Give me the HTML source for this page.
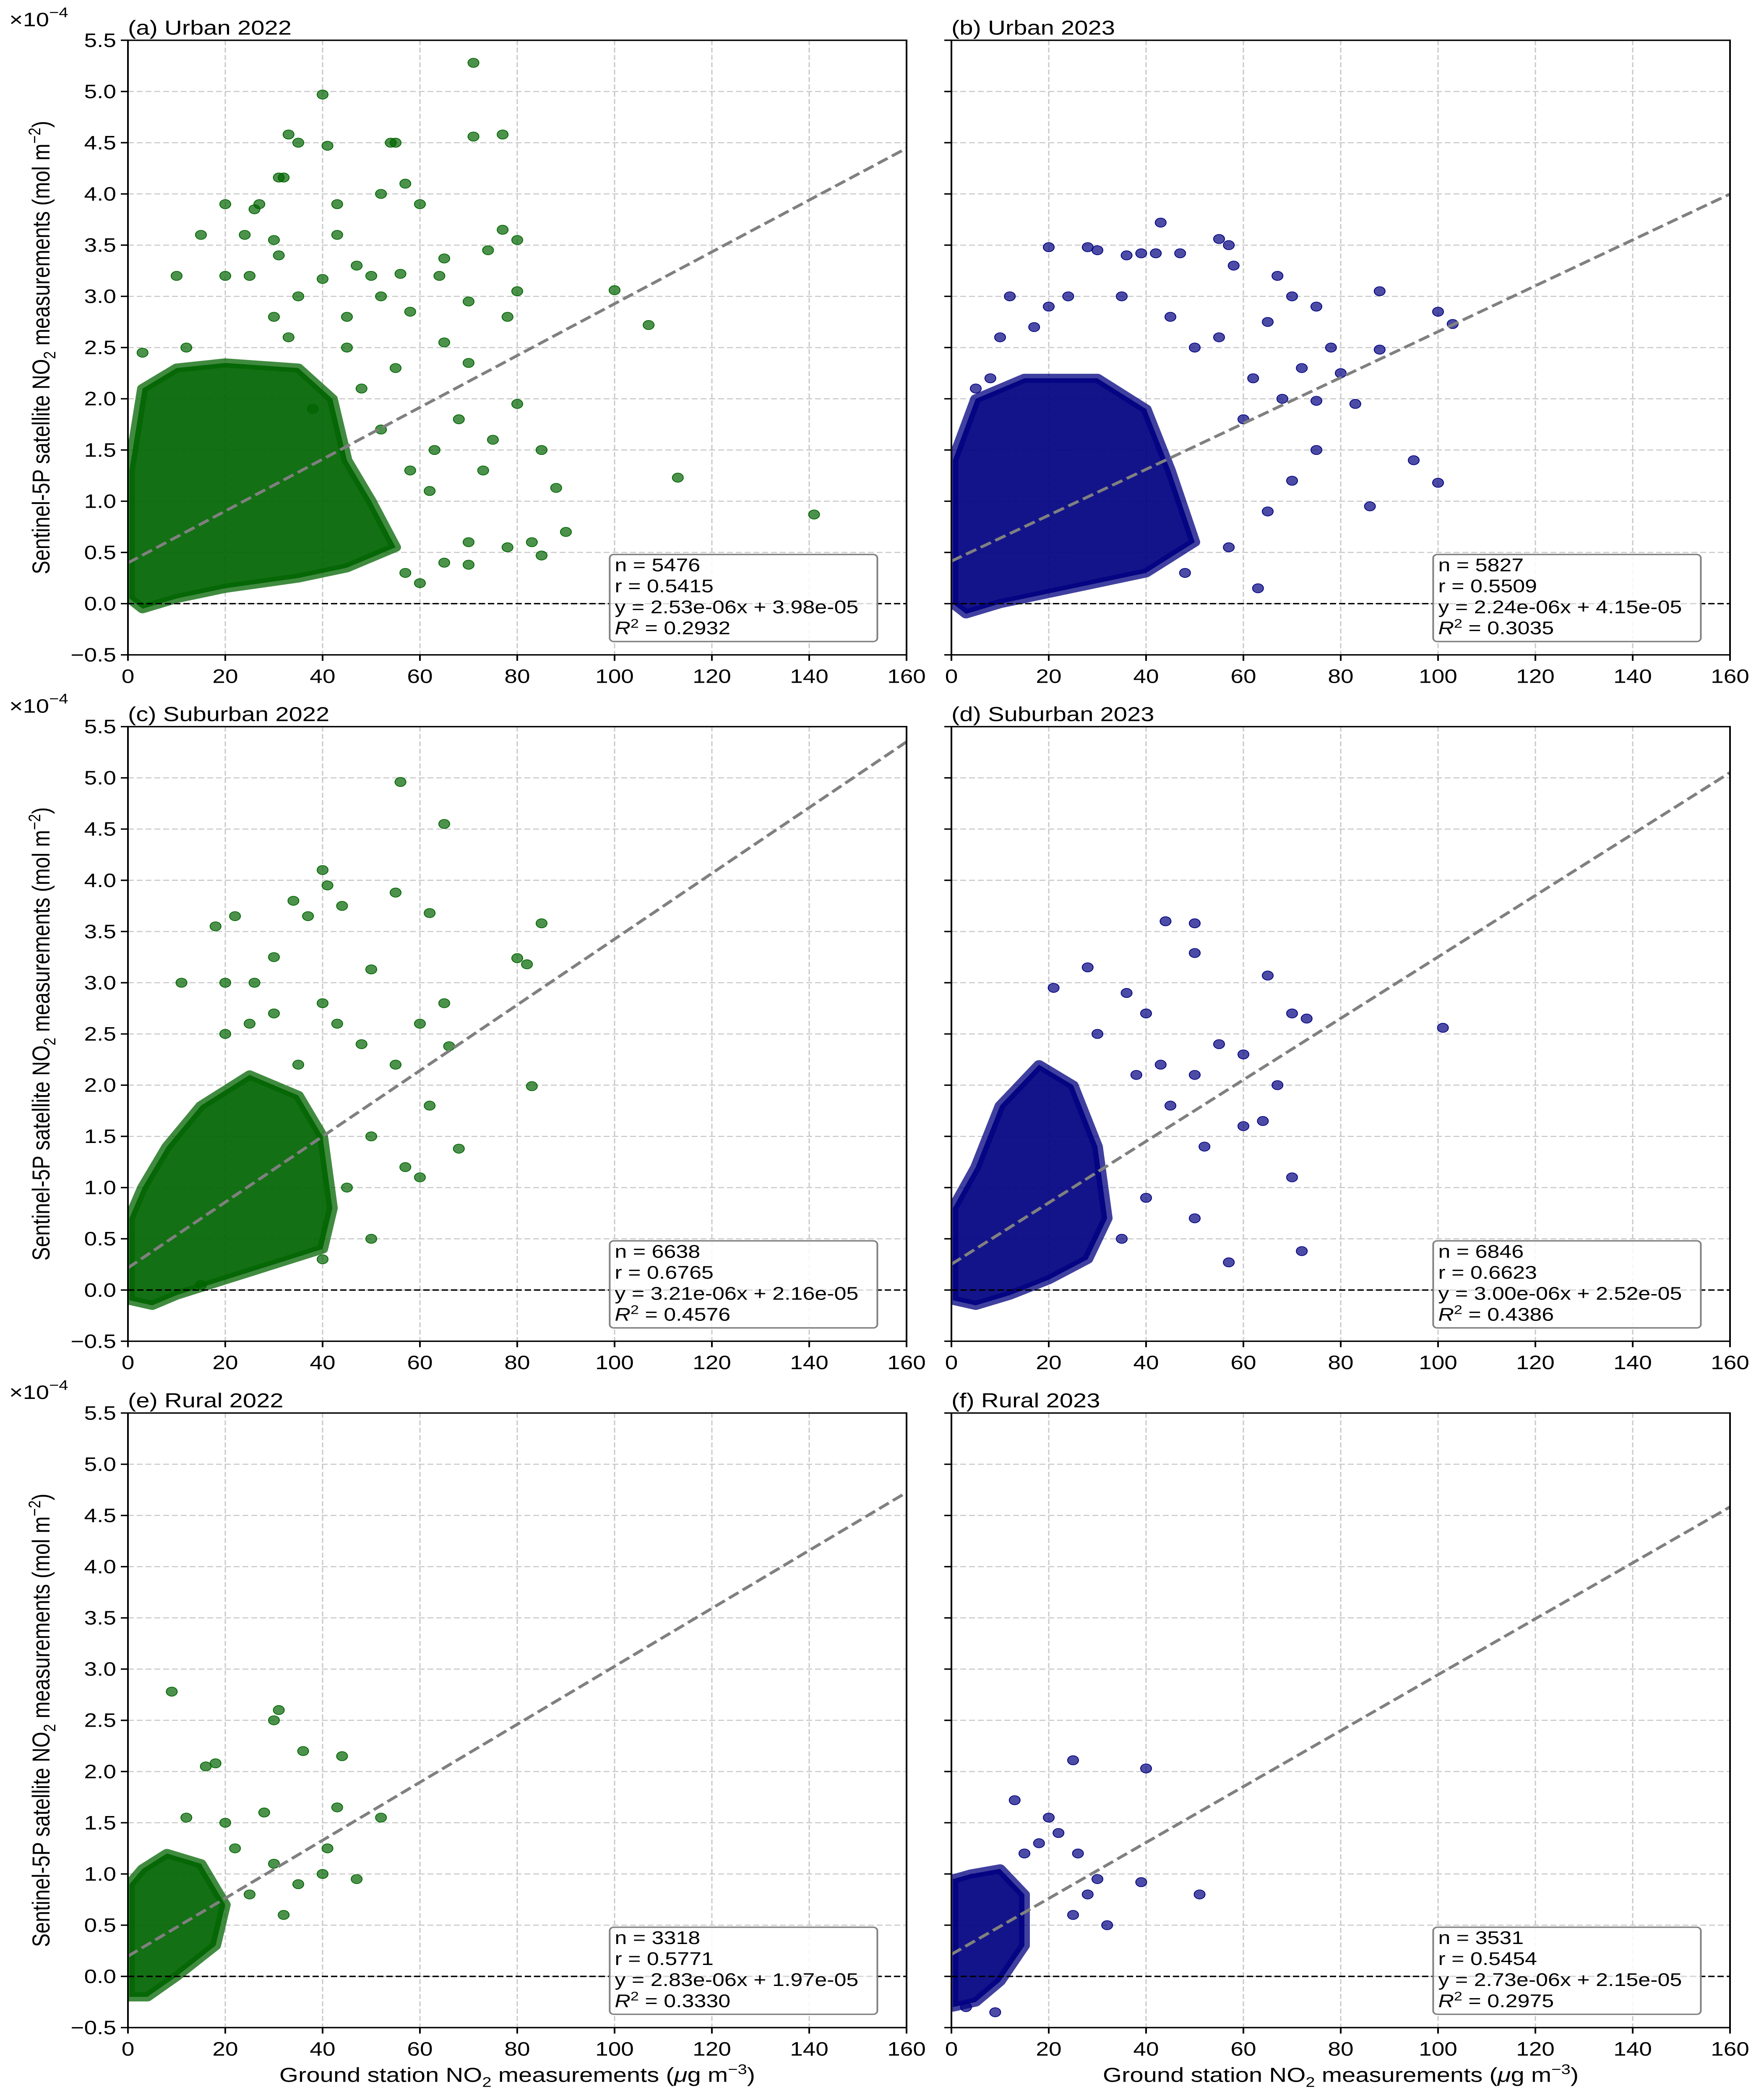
<!DOCTYPE html>
<html><head><meta charset="utf-8"><style>
html,body{margin:0;padding:0;width:100%;height:100%;overflow:hidden;background:#fff}
svg{display:block;width:100vw;height:100vh;font-family:"Liberation Sans",sans-serif}
</style></head><body>
<svg id="fig" viewBox="0 0 4205 5991" preserveAspectRatio="none" xmlns="http://www.w3.org/2000/svg"></svg>
<script>
const xTicks=[0,20,40,60,80,100,120,140,160];
const yTicks=[-0.5,0,0.5,1,1.5,2,2.5,3,3.5,4,4.5,5,5.5];
const yTickLabels=["−0.5","0.0","0.5","1.0","1.5","2.0","2.5","3.0","3.5","4.0","4.5","5.0","5.5"];
const titles=["(a) Urban 2022","(b) Urban 2023","(c) Suburban 2022","(d) Suburban 2023","(e) Rural 2022","(f) Rural 2023"];
const nVals=[5476,5827,6638,6846,3318,3531];
const rVals=["0.5415","0.5509","0.6765","0.6623","0.5771","0.5454"];
const slopes=[2.53,2.24,3.21,3.00,2.83,2.73];
const intercepts=[3.98,4.15,2.16,2.52,1.97,2.15];
const r2Vals=["0.2932","0.3035","0.4576","0.4386","0.3330","0.2975"];
const blobA=[[0.3,0.05],[3,-0.05],[10,0.05],[20,0.15],[35,0.25],[45,0.35],[55,0.55],[50,1.0],[45,1.4],[42,2.0],[35,2.3],[20,2.35],[10,2.3],[3,2.1],[0.3,1.3]];
const blobB=[[0.3,0.0],[3,-0.1],[10,0.0],[25,0.15],[40,0.3],[50,0.6],[45,1.3],[40,1.9],[30,2.2],[15,2.2],[5,2.0],[0.3,1.4]];
const blobC=[[0.3,-0.1],[5,-0.15],[10,-0.05],[20,0.1],[30,0.25],[40,0.4],[42,0.8],[40,1.5],[35,1.9],[25,2.1],[15,1.8],[8,1.4],[3,1.0],[0.3,0.7]];
const blobD=[[0.3,-0.1],[5,-0.15],[12,-0.05],[20,0.1],[28,0.3],[32,0.7],[30,1.4],[25,2.0],[18,2.2],[10,1.8],[5,1.2],[0.3,0.8]];
const blobE=[[0.3,-0.2],[4,-0.2],[10,0.0],[18,0.3],[20,0.7],[15,1.1],[8,1.2],[3,1.05],[0.3,0.9]];
const blobF=[[0.3,-0.3],[5,-0.25],[10,-0.05],[15,0.3],[15,0.8],[10,1.05],[4,1.0],[0.3,0.95]];
const ptsA=[[71,5.28],[40,4.97],[33,4.58],[77,4.58],[71,4.56],[35,4.5],[54,4.5],[55,4.5],[41,4.47],[31,4.16],[32,4.16],[57,4.1],[52,4.0],[20,3.9],[43,3.9],[60,3.9],[26,3.85],[43,3.6],[77,3.65],[30,3.55],[80,3.55],[74,3.45],[31,3.4],[65,3.37],[47,3.3],[20,3.2],[25,3.2],[50,3.2],[56,3.22],[40,3.17],[64,3.2],[100,3.06],[35,3.0],[52,3.0],[80,3.05],[70,2.95],[58,2.85],[78,2.8],[107,2.72],[45,2.5],[65,2.55],[55,2.3],[70,2.35],[80,1.95],[68,1.8],[75,1.6],[63,1.5],[85,1.5],[73,1.3],[113,1.23],[88,1.13],[141,0.87],[90,0.7],[83,0.6],[85,0.47],[78,0.55],[70,0.6],[65,0.4],[60,0.2],[57,0.3],[70,0.38],[38,1.9],[48,2.1],[62,1.1],[52,1.7],[58,1.3],[30,2.8],[33,2.6],[45,2.8],[12,2.5],[3,2.45],[15,3.6],[10,3.2],[24,3.6],[27,3.9]];
const ptsB=[[43,3.72],[55,3.56],[57,3.5],[20,3.48],[28,3.48],[36,3.4],[39,3.42],[42,3.42],[47,3.42],[30,3.45],[58,3.3],[67,3.2],[88,3.05],[70,3.0],[100,2.85],[103,2.73],[75,2.9],[88,2.48],[65,2.75],[55,2.6],[78,2.5],[72,2.3],[80,2.25],[68,2.0],[75,1.98],[83,1.95],[95,1.4],[100,1.18],[86,0.95],[75,1.5],[70,1.2],[65,0.9],[63,0.15],[57,0.55],[48,0.3],[20,2.9],[17,2.7],[10,2.6],[12,3.0],[24,3.0],[62,2.2],[50,2.5],[45,2.8],[35,3.0],[60,1.8],[5,2.1],[8,2.2]];
const ptsC=[[56,4.96],[65,4.55],[40,4.1],[41,3.95],[37,3.65],[44,3.75],[18,3.55],[55,3.88],[62,3.68],[85,3.58],[30,3.25],[80,3.24],[82,3.18],[26,3.0],[11,3.0],[40,2.8],[50,3.13],[65,2.8],[83,1.99],[60,2.6],[48,2.4],[66,2.38],[55,2.2],[43,2.6],[68,1.38],[62,1.8],[50,1.5],[60,1.1],[50,0.5],[40,0.3],[15,0.05],[20,2.5],[25,2.6],[35,2.2],[30,2.7],[57,1.2],[45,1.0],[22,3.65],[34,3.8],[20,3.0]];
const ptsD=[[44,3.6],[50,3.58],[50,3.29],[28,3.15],[21,2.95],[36,2.9],[65,3.07],[101,2.56],[70,2.7],[73,2.65],[30,2.5],[40,2.7],[55,2.4],[60,2.3],[70,1.1],[72,0.38],[60,1.6],[64,1.65],[57,0.27],[50,0.7],[45,1.8],[38,2.1],[43,2.2],[50,2.1],[67,2.0],[52,1.4],[40,0.9],[35,0.5]];
const ptsE=[[9,2.78],[31,2.6],[30,2.5],[36,2.2],[44,2.15],[18,2.08],[16,2.05],[47,0.95],[52,1.55],[41,1.25],[40,1.0],[43,1.65],[28,1.6],[22,1.25],[30,1.1],[35,0.9],[25,0.8],[32,0.6],[20,1.5],[12,1.55]];
const ptsF=[[25,2.11],[40,2.03],[13,1.72],[20,1.55],[22,1.4],[26,1.2],[30,0.95],[39,0.92],[51,0.8],[18,1.3],[15,1.2],[28,0.8],[3,-0.3],[9,-0.35],[25,0.6],[32,0.5]];

const blobs=[blobA,blobB,blobC,blobD,blobE,blobF];
const pts=[ptsA,ptsB,ptsC,ptsD,ptsE,ptsF];
const NS="http://www.w3.org/2000/svg";
const svg=document.getElementById('fig');
function mk(tag,attrs,parent){const e=document.createElementNS(NS,tag);for(const k in attrs)e.setAttribute(k,attrs[k]);(parent||svg).appendChild(e);return e;}
const colL=305,colR=2268,W=1856,rowT=[115,2075,4035],H=1755;
const FS=55, SFS=52;
for(let p=0;p<6;p++){
  const col=p%2,row=Math.floor(p/2);
  const L=col?colR:colL,T=rowT[row];
  const sx=v=>L+v/160*W, sy=v=>T+(5.5-v)/6*H;
  const g=mk('g',{});
  
  
  const clipId='c'+p;
  const cp=mk('clipPath',{id:clipId},g);mk('rect',{x:L,y:T,width:W,height:H},cp);
  xTicks.forEach(t=>{const l=mk('line',{x1:sx(t),x2:sx(t),y1:T,y2:T+H,stroke:'#c8c8c8','stroke-width':3,'stroke-dasharray':'14,7'},g);
    });
  yTicks.forEach(t=>{const l=mk('line',{x1:L,x2:L+W,y1:sy(t),y2:sy(t),stroke:'#c8c8c8','stroke-width':3,'stroke-dasharray':'14,7'},g);
    });
  const c=col?'#000080':'#006400';
  const dg=mk('g',{'clip-path':'url(#'+clipId+')'},g);
  const bp=blobs[p].map(d=>sx(d[0])+','+sy(d[1])).join(' ');
  const bl=mk('polygon',{points:bp,fill:c,stroke:c,'stroke-width':26,'stroke-linejoin':'round','fill-opacity':0.92,'stroke-opacity':0.75},dg);
  
  pts[p].forEach(d=>{const ci=mk('circle',{cx:sx(d[0]),cy:sy(d[1]),r:13,fill:c,'fill-opacity':0.7,stroke:c,'stroke-width':2},dg);
    });
  const rl=mk('line',{x1:sx(0),y1:sy(intercepts[p]/10),x2:sx(160),y2:sy(intercepts[p]/10+slopes[p]/100*160),stroke:'#808080','stroke-width':8,'stroke-dasharray':'28,12'},dg);
  
  const zl=mk('line',{x1:L,x2:L+W,y1:sy(0),y2:sy(0),stroke:'#000','stroke-width':4,'stroke-dasharray':'15,7'},g);
  
  const bx=mk('rect',{x:sx(99),y:sy(0.48),width:sx(154)-sx(99),height:sy(-0.37)-sy(0.48),rx:10,fill:'#fff','fill-opacity':0.85,stroke:'#808080','stroke-width':4},g);
  
  const lines=['n = '+nVals[p],'r = '+rVals[p],'y = '+slopes[p].toFixed(2)+'e-06x + '+intercepts[p].toFixed(2)+'e-05'];
  lines.forEach((s,i)=>{const t=mk('text',{x:sx(99)+12,y:sy(0.48)+48+i*60,'font-size':SFS},g);t.textContent=s;
    });
  const r2=mk('text',{x:sx(99)+12,y:sy(0.48)+48+3*60,'font-size':SFS},g);
  r2.innerHTML='<tspan font-style="italic">R</tspan><tspan font-size="36" dy="-19">2</tspan><tspan dy="19"> = '+r2Vals[p]+'</tspan>';
  
  const fr=mk('rect',{x:L,y:T,width:W,height:H,fill:'none',stroke:'#000','stroke-width':4},g);
  
  xTicks.forEach(t=>{mk('line',{x1:sx(t),x2:sx(t),y1:T+H,y2:T+H+17,stroke:'#000','stroke-width':4},g);
    const tx=mk('text',{x:sx(t),y:T+H+80,'font-size':FS,'text-anchor':'middle'},g);tx.textContent=t;
    });
  yTicks.forEach((t,i)=>{mk('line',{x1:L-17,x2:L,y1:sy(t),y2:sy(t),stroke:'#000','stroke-width':4},g);
    if(!col){const ty=mk('text',{x:L-28,y:sy(t)+19,'font-size':FS,'text-anchor':'end'},g);ty.textContent=yTickLabels[i];
      }});
  const ti=mk('text',{x:L,y:T-16,'font-size':58},g);ti.textContent=titles[p];
  
  if(!col){
    const ex=mk('text',{x:22,y:T-40,'font-size':56},g);
    ex.innerHTML='×10<tspan font-size="40" dy="-26">−4</tspan>';
    
    const yl=mk('text',{x:0,y:0,'font-size':58,'text-anchor':'middle',transform:'translate(118,'+(T+H/2)+') rotate(-90)'},g);
    yl.innerHTML='Sentinel-5P satellite NO<tspan font-size="40" dy="14">2</tspan><tspan dy="-14"> measurements (mol m</tspan><tspan font-size="40" dy="-22">−2</tspan><tspan dy="22">)</tspan>';
    
  }
  if(row===2){
    const xl=mk('text',{x:L+W/2,y:5945,'font-size':58,'text-anchor':'middle'},g);
    xl.innerHTML='Ground station NO<tspan font-size="40" dy="14">2</tspan><tspan dy="-14"> measurements (</tspan><tspan font-style="italic">μ</tspan>g m<tspan font-size="40" dy="-22">−3</tspan><tspan dy="22">)</tspan>';
    
  }
}
</script>
</body></html>
